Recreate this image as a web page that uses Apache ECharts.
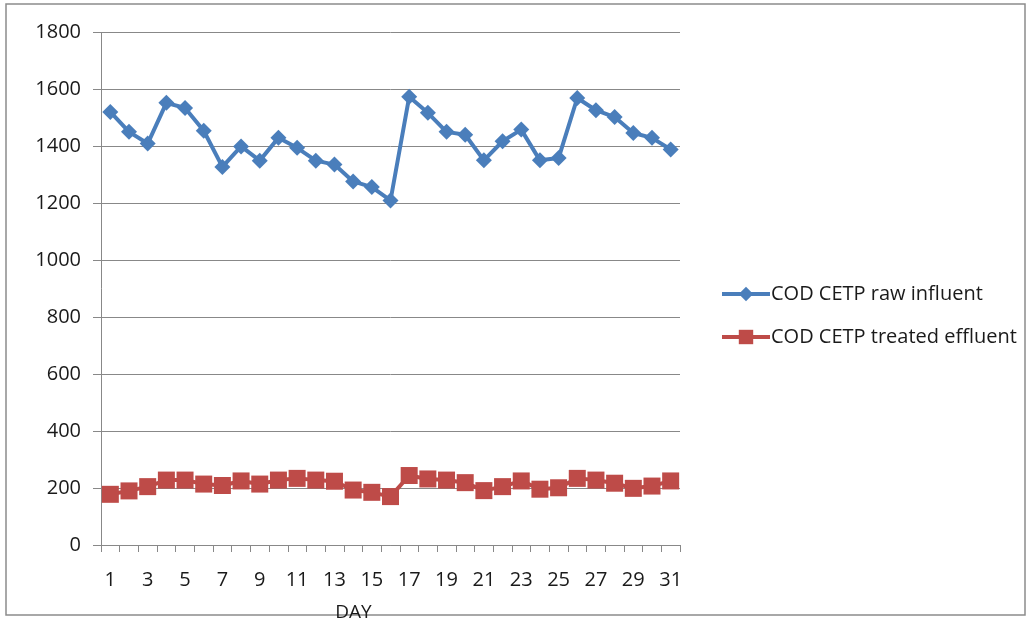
<!DOCTYPE html>
<html><head><meta charset="utf-8">
<script src="https://cdn.jsdelivr.net/npm/echarts@6/dist/echarts.min.js"></script>
<style>html,body{margin:0;padding:0;background:#fff}#c{width:1031px;height:620px}</style>
</head><body><div id="c"></div>
<script>
const days = ['1','2','3','4','5','6','7','8','9','10','11','12','13','14','15','16','17','18','19','20','21','22','23','24','25','26','27','28','29','30','31'];
const rawInfluent = [1521,1451,1410,1553,1535,1455,1328,1400,1350,1430,1395,1350,1336,1277,1257,1210,1574,1518,1451,1441,1351,1418,1459,1351,1359,1570,1527,1503,1447,1430,1389];
const treatedEffluent = [178,190,205,228,228,214,209,225,214,228,234,228,224,193,185,170,244,232,228,219,191,205,225,196,201,234,228,217,199,207,225];
const yTicks = {min:0, max:1800, interval:200};
const seriesNames = ['COD CETP raw influent','COD CETP treated effluent'];

const font = '"Open Sans", sans-serif';
const chart = echarts.init(document.getElementById('c'));
chart.setOption({
  animation:false,
  backgroundColor:'#fff',
  graphic:[{type:'rect',shape:{x:6,y:4,width:1019,height:611},style:{fill:'none',stroke:'#8c8c8c',lineWidth:1.5},silent:true}],
  grid:{left:101,right:351,top:32.5,bottom:75,containLabel:false,outerBoundsMode:'none'},
  legend:{
    orient:'vertical', left:715, top:279, itemGap:23, itemWidth:48, itemHeight:18,
    lineStyle:{width:4},
    textStyle:{fontFamily:font,fontSize:20,color:'#1a1a1a',padding:[0,0,0,-4]},
    data:[seriesNames[0],seriesNames[1]]
  },
  xAxis:{
    type:'category', data:days, boundaryGap:true,
    name:'DAY', nameLocation:'middle', nameGap:58,
    nameTextStyle:{fontFamily:font,fontSize:19,color:'#1a1a1a',padding:[0,74,0,0]},
    axisLine:{lineStyle:{color:'#888',width:1}},
    axisTick:{show:true,interval:0,length:7,lineStyle:{color:'#888'}},
    axisLabel:{interval:1,margin:25,fontFamily:font,fontSize:20,color:'#1a1a1a'},
    splitLine:{show:false}
  },
  yAxis:{
    type:'value', min:yTicks.min, max:yTicks.max, interval:yTicks.interval,
    axisLine:{show:true,lineStyle:{color:'#888',width:1}},
    axisTick:{show:true,length:8,lineStyle:{color:'#888'}},
    axisLabel:{margin:20,fontFamily:font,fontSize:20,color:'#1a1a1a',formatter:v=>String(v)},
    splitLine:{show:true,lineStyle:{color:'#888',width:1}}
  },
  series:[
    {name:seriesNames[0],type:'line',data:rawInfluent,symbol:'diamond',symbolSize:16,showAllSymbol:true,
     lineStyle:{color:'#4A7EBB',width:4},itemStyle:{color:'#4A7EBB'}},
    {name:seriesNames[1],type:'line',data:treatedEffluent,symbol:'rect',symbolSize:17,showAllSymbol:true,
     lineStyle:{color:'#BE4B48',width:4},itemStyle:{color:'#BE4B48'}}
  ]
});
</script></body></html>
